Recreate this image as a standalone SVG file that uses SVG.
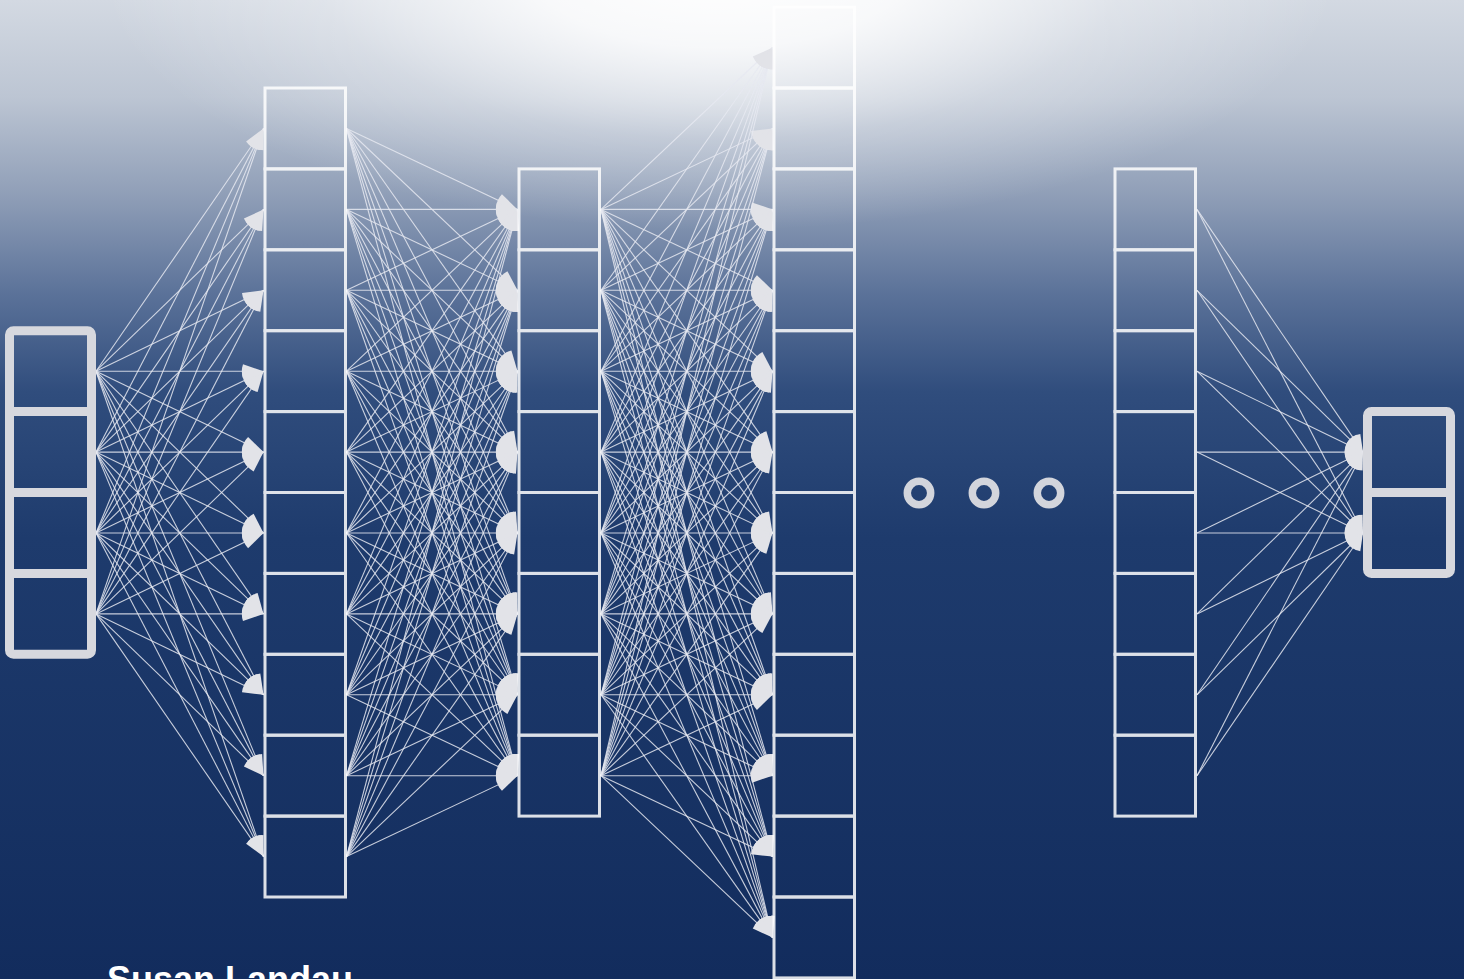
<svg xmlns="http://www.w3.org/2000/svg" width="1464" height="979" viewBox="0 0 1464 979">
<defs>
<style>
.conn path{fill:none;stroke:#e6e9f1;stroke-width:1.1;stroke-opacity:0.85}
.layer{opacity:0.85}
.layer rect{fill:none;stroke:#ffffff;stroke-width:3}
.io rect,.io path{fill:none;stroke:#d7d8de;stroke-width:9}
.dot{fill:none;stroke:#d3d5dc;stroke-width:7.5}
.label{font-family:"Liberation Sans",Arial,sans-serif;font-weight:bold;font-size:36px;fill:#ffffff}
</style>
<linearGradient id="bg" x1="0" y1="0" x2="0" y2="979" gradientUnits="userSpaceOnUse">
<stop offset="0" stop-color="#d3d9e2"/>
<stop offset="0.1" stop-color="#bcc5d3"/>
<stop offset="0.2" stop-color="#8f9eb7"/>
<stop offset="0.3" stop-color="#5b7299"/>
<stop offset="0.4" stop-color="#304d7d"/>
<stop offset="0.55" stop-color="#1e3b6d"/>
<stop offset="1" stop-color="#122c5d"/>
</linearGradient>
<radialGradient id="glow" cx="720" cy="-30" r="620" gradientUnits="userSpaceOnUse" gradientTransform="translate(720 -30) scale(1 0.42) translate(-720 30)">
<stop offset="0" stop-color="#ffffff" stop-opacity="1"/>
<stop offset="0.3" stop-color="#ffffff" stop-opacity="0.85"/>
<stop offset="0.65" stop-color="#ffffff" stop-opacity="0.3"/>
<stop offset="1" stop-color="#ffffff" stop-opacity="0"/>
</radialGradient>
<marker id="ah" viewBox="-23 -12 24 24" refX="0" refY="0" markerWidth="24" markerHeight="24" markerUnits="userSpaceOnUse" orient="auto">
<path d="M0,0 L-20.5,-7 A21.7,21.7 0 0 0 -20.5,7 Z" fill="#e2e3e8"/>
</marker>
<marker id="ah2" viewBox="-20 -12 21 24" refX="0" refY="0" markerWidth="21" markerHeight="24" markerUnits="userSpaceOnUse" orient="auto">
<path d="M0,0 L-16.5,-8 A18.3,18.3 0 0 0 -16.5,8 Z" fill="#e2e3e8"/>
</marker>
</defs>
<rect x="0" y="0" width="1464" height="979" fill="url(#bg)"/>
<rect x="0" y="0" width="1464" height="979" fill="url(#glow)"/>

<g id="connectors" class="conn">
<g id="input-to-hidden1" marker-end="url(#ah)">
<path d="M96 371.2L263.5 128.5"/><path d="M96 371.2L263.5 209.4"/><path d="M96 371.2L263.5 290.3"/><path d="M96 371.2L263.5 371.2"/><path d="M96 371.2L263.5 452.1"/><path d="M96 371.2L263.5 533"/><path d="M96 371.2L263.5 613.9"/><path d="M96 371.2L263.5 694.8"/><path d="M96 371.2L263.5 775.7"/><path d="M96 371.2L263.5 856.6"/>
<path d="M96 452.1L263.5 128.5"/><path d="M96 452.1L263.5 209.4"/><path d="M96 452.1L263.5 290.3"/><path d="M96 452.1L263.5 371.2"/><path d="M96 452.1L263.5 452.1"/><path d="M96 452.1L263.5 533"/><path d="M96 452.1L263.5 613.9"/><path d="M96 452.1L263.5 694.8"/><path d="M96 452.1L263.5 775.7"/><path d="M96 452.1L263.5 856.6"/>
<path d="M96 533L263.5 128.5"/><path d="M96 533L263.5 209.4"/><path d="M96 533L263.5 290.3"/><path d="M96 533L263.5 371.2"/><path d="M96 533L263.5 452.1"/><path d="M96 533L263.5 533"/><path d="M96 533L263.5 613.9"/><path d="M96 533L263.5 694.8"/><path d="M96 533L263.5 775.7"/><path d="M96 533L263.5 856.6"/>
<path d="M96 613.9L263.5 128.5"/><path d="M96 613.9L263.5 209.4"/><path d="M96 613.9L263.5 290.3"/><path d="M96 613.9L263.5 371.2"/><path d="M96 613.9L263.5 452.1"/><path d="M96 613.9L263.5 533"/><path d="M96 613.9L263.5 613.9"/><path d="M96 613.9L263.5 694.8"/><path d="M96 613.9L263.5 775.7"/><path d="M96 613.9L263.5 856.6"/>
</g>
<g id="hidden1-to-hidden2" marker-end="url(#ah)">
<path d="M346.5 128.5L517.5 209.4"/><path d="M346.5 128.5L517.5 290.3"/><path d="M346.5 128.5L517.5 371.2"/><path d="M346.5 128.5L517.5 452.1"/><path d="M346.5 128.5L517.5 533"/><path d="M346.5 128.5L517.5 613.9"/><path d="M346.5 128.5L517.5 694.8"/><path d="M346.5 128.5L517.5 775.7"/>
<path d="M346.5 209.4L517.5 209.4"/><path d="M346.5 209.4L517.5 290.3"/><path d="M346.5 209.4L517.5 371.2"/><path d="M346.5 209.4L517.5 452.1"/><path d="M346.5 209.4L517.5 533"/><path d="M346.5 209.4L517.5 613.9"/><path d="M346.5 209.4L517.5 694.8"/><path d="M346.5 209.4L517.5 775.7"/>
<path d="M346.5 290.3L517.5 209.4"/><path d="M346.5 290.3L517.5 290.3"/><path d="M346.5 290.3L517.5 371.2"/><path d="M346.5 290.3L517.5 452.1"/><path d="M346.5 290.3L517.5 533"/><path d="M346.5 290.3L517.5 613.9"/><path d="M346.5 290.3L517.5 694.8"/><path d="M346.5 290.3L517.5 775.7"/>
<path d="M346.5 371.2L517.5 209.4"/><path d="M346.5 371.2L517.5 290.3"/><path d="M346.5 371.2L517.5 371.2"/><path d="M346.5 371.2L517.5 452.1"/><path d="M346.5 371.2L517.5 533"/><path d="M346.5 371.2L517.5 613.9"/><path d="M346.5 371.2L517.5 694.8"/><path d="M346.5 371.2L517.5 775.7"/>
<path d="M346.5 452.1L517.5 209.4"/><path d="M346.5 452.1L517.5 290.3"/><path d="M346.5 452.1L517.5 371.2"/><path d="M346.5 452.1L517.5 452.1"/><path d="M346.5 452.1L517.5 533"/><path d="M346.5 452.1L517.5 613.9"/><path d="M346.5 452.1L517.5 694.8"/><path d="M346.5 452.1L517.5 775.7"/>
<path d="M346.5 533L517.5 209.4"/><path d="M346.5 533L517.5 290.3"/><path d="M346.5 533L517.5 371.2"/><path d="M346.5 533L517.5 452.1"/><path d="M346.5 533L517.5 533"/><path d="M346.5 533L517.5 613.9"/><path d="M346.5 533L517.5 694.8"/><path d="M346.5 533L517.5 775.7"/>
<path d="M346.5 613.9L517.5 209.4"/><path d="M346.5 613.9L517.5 290.3"/><path d="M346.5 613.9L517.5 371.2"/><path d="M346.5 613.9L517.5 452.1"/><path d="M346.5 613.9L517.5 533"/><path d="M346.5 613.9L517.5 613.9"/><path d="M346.5 613.9L517.5 694.8"/><path d="M346.5 613.9L517.5 775.7"/>
<path d="M346.5 694.8L517.5 209.4"/><path d="M346.5 694.8L517.5 290.3"/><path d="M346.5 694.8L517.5 371.2"/><path d="M346.5 694.8L517.5 452.1"/><path d="M346.5 694.8L517.5 533"/><path d="M346.5 694.8L517.5 613.9"/><path d="M346.5 694.8L517.5 694.8"/><path d="M346.5 694.8L517.5 775.7"/>
<path d="M346.5 775.7L517.5 209.4"/><path d="M346.5 775.7L517.5 290.3"/><path d="M346.5 775.7L517.5 371.2"/><path d="M346.5 775.7L517.5 452.1"/><path d="M346.5 775.7L517.5 533"/><path d="M346.5 775.7L517.5 613.9"/><path d="M346.5 775.7L517.5 694.8"/><path d="M346.5 775.7L517.5 775.7"/>
<path d="M346.5 856.6L517.5 209.4"/><path d="M346.5 856.6L517.5 290.3"/><path d="M346.5 856.6L517.5 371.2"/><path d="M346.5 856.6L517.5 452.1"/><path d="M346.5 856.6L517.5 533"/><path d="M346.5 856.6L517.5 613.9"/><path d="M346.5 856.6L517.5 694.8"/><path d="M346.5 856.6L517.5 775.7"/>
</g>
<g id="hidden2-to-hidden3" marker-end="url(#ah)">
<path d="M601 209.4L772.5 47.6"/><path d="M601 209.4L772.5 128.5"/><path d="M601 209.4L772.5 209.4"/><path d="M601 209.4L772.5 290.3"/><path d="M601 209.4L772.5 371.2"/><path d="M601 209.4L772.5 452.1"/><path d="M601 209.4L772.5 533"/><path d="M601 209.4L772.5 613.9"/><path d="M601 209.4L772.5 694.8"/><path d="M601 209.4L772.5 775.7"/><path d="M601 209.4L772.5 856.6"/><path d="M601 209.4L772.5 937.5"/>
<path d="M601 290.3L772.5 47.6"/><path d="M601 290.3L772.5 128.5"/><path d="M601 290.3L772.5 209.4"/><path d="M601 290.3L772.5 290.3"/><path d="M601 290.3L772.5 371.2"/><path d="M601 290.3L772.5 452.1"/><path d="M601 290.3L772.5 533"/><path d="M601 290.3L772.5 613.9"/><path d="M601 290.3L772.5 694.8"/><path d="M601 290.3L772.5 775.7"/><path d="M601 290.3L772.5 856.6"/><path d="M601 290.3L772.5 937.5"/>
<path d="M601 371.2L772.5 47.6"/><path d="M601 371.2L772.5 128.5"/><path d="M601 371.2L772.5 209.4"/><path d="M601 371.2L772.5 290.3"/><path d="M601 371.2L772.5 371.2"/><path d="M601 371.2L772.5 452.1"/><path d="M601 371.2L772.5 533"/><path d="M601 371.2L772.5 613.9"/><path d="M601 371.2L772.5 694.8"/><path d="M601 371.2L772.5 775.7"/><path d="M601 371.2L772.5 856.6"/><path d="M601 371.2L772.5 937.5"/>
<path d="M601 452.1L772.5 47.6"/><path d="M601 452.1L772.5 128.5"/><path d="M601 452.1L772.5 209.4"/><path d="M601 452.1L772.5 290.3"/><path d="M601 452.1L772.5 371.2"/><path d="M601 452.1L772.5 452.1"/><path d="M601 452.1L772.5 533"/><path d="M601 452.1L772.5 613.9"/><path d="M601 452.1L772.5 694.8"/><path d="M601 452.1L772.5 775.7"/><path d="M601 452.1L772.5 856.6"/><path d="M601 452.1L772.5 937.5"/>
<path d="M601 533L772.5 47.6"/><path d="M601 533L772.5 128.5"/><path d="M601 533L772.5 209.4"/><path d="M601 533L772.5 290.3"/><path d="M601 533L772.5 371.2"/><path d="M601 533L772.5 452.1"/><path d="M601 533L772.5 533"/><path d="M601 533L772.5 613.9"/><path d="M601 533L772.5 694.8"/><path d="M601 533L772.5 775.7"/><path d="M601 533L772.5 856.6"/><path d="M601 533L772.5 937.5"/>
<path d="M601 613.9L772.5 47.6"/><path d="M601 613.9L772.5 128.5"/><path d="M601 613.9L772.5 209.4"/><path d="M601 613.9L772.5 290.3"/><path d="M601 613.9L772.5 371.2"/><path d="M601 613.9L772.5 452.1"/><path d="M601 613.9L772.5 533"/><path d="M601 613.9L772.5 613.9"/><path d="M601 613.9L772.5 694.8"/><path d="M601 613.9L772.5 775.7"/><path d="M601 613.9L772.5 856.6"/><path d="M601 613.9L772.5 937.5"/>
<path d="M601 694.8L772.5 47.6"/><path d="M601 694.8L772.5 128.5"/><path d="M601 694.8L772.5 209.4"/><path d="M601 694.8L772.5 290.3"/><path d="M601 694.8L772.5 371.2"/><path d="M601 694.8L772.5 452.1"/><path d="M601 694.8L772.5 533"/><path d="M601 694.8L772.5 613.9"/><path d="M601 694.8L772.5 694.8"/><path d="M601 694.8L772.5 775.7"/><path d="M601 694.8L772.5 856.6"/><path d="M601 694.8L772.5 937.5"/>
<path d="M601 775.7L772.5 47.6"/><path d="M601 775.7L772.5 128.5"/><path d="M601 775.7L772.5 209.4"/><path d="M601 775.7L772.5 290.3"/><path d="M601 775.7L772.5 371.2"/><path d="M601 775.7L772.5 452.1"/><path d="M601 775.7L772.5 533"/><path d="M601 775.7L772.5 613.9"/><path d="M601 775.7L772.5 694.8"/><path d="M601 775.7L772.5 775.7"/><path d="M601 775.7L772.5 856.6"/><path d="M601 775.7L772.5 937.5"/>
</g>
<g id="hiddenN-to-output" marker-end="url(#ah2)">
<path d="M1197 209.4L1363 452.1"/><path d="M1197 209.4L1363 533"/>
<path d="M1197 290.3L1363 452.1"/><path d="M1197 290.3L1363 533"/>
<path d="M1197 371.2L1363 452.1"/><path d="M1197 371.2L1363 533"/>
<path d="M1197 452.1L1363 452.1"/><path d="M1197 452.1L1363 533"/>
<path d="M1197 533L1363 452.1"/><path d="M1197 533L1363 533"/>
<path d="M1197 613.9L1363 452.1"/><path d="M1197 613.9L1363 533"/>
<path d="M1197 694.8L1363 452.1"/><path d="M1197 694.8L1363 533"/>
<path d="M1197 775.7L1363 452.1"/><path d="M1197 775.7L1363 533"/>
</g>
</g>

<g id="input-layer" class="io">
<rect x="9.5" y="330.7" width="82" height="323.6" rx="4"/>
<path d="M9.5 411.6H91.5M9.5 492.5H91.5M9.5 573.4H91.5"/>
</g>

<g id="hidden-layer-1" class="layer">
<rect x="265" y="88" width="80.5" height="80.9"/><rect x="265" y="168.9" width="80.5" height="80.9"/><rect x="265" y="249.8" width="80.5" height="80.9"/><rect x="265" y="330.7" width="80.5" height="80.9"/><rect x="265" y="411.6" width="80.5" height="80.9"/><rect x="265" y="492.5" width="80.5" height="80.9"/><rect x="265" y="573.4" width="80.5" height="80.9"/><rect x="265" y="654.3" width="80.5" height="80.9"/><rect x="265" y="735.2" width="80.5" height="80.9"/><rect x="265" y="816.1" width="80.5" height="80.9"/>
</g>

<g id="hidden-layer-2" class="layer">
<rect x="519" y="168.9" width="80.5" height="80.9"/><rect x="519" y="249.8" width="80.5" height="80.9"/><rect x="519" y="330.7" width="80.5" height="80.9"/><rect x="519" y="411.6" width="80.5" height="80.9"/><rect x="519" y="492.5" width="80.5" height="80.9"/><rect x="519" y="573.4" width="80.5" height="80.9"/><rect x="519" y="654.3" width="80.5" height="80.9"/><rect x="519" y="735.2" width="80.5" height="80.9"/>
</g>

<g id="hidden-layer-3" class="layer">
<rect x="774" y="7.1" width="80.5" height="80.9"/><rect x="774" y="88" width="80.5" height="80.9"/><rect x="774" y="168.9" width="80.5" height="80.9"/><rect x="774" y="249.8" width="80.5" height="80.9"/><rect x="774" y="330.7" width="80.5" height="80.9"/><rect x="774" y="411.6" width="80.5" height="80.9"/><rect x="774" y="492.5" width="80.5" height="80.9"/><rect x="774" y="573.4" width="80.5" height="80.9"/><rect x="774" y="654.3" width="80.5" height="80.9"/><rect x="774" y="735.2" width="80.5" height="80.9"/><rect x="774" y="816.1" width="80.5" height="80.9"/><rect x="774" y="897" width="80.5" height="80.9"/>
</g>

<g id="ellipsis">
<circle class="dot" cx="919" cy="493" r="11.7"/>
<circle class="dot" cx="984" cy="493" r="11.7"/>
<circle class="dot" cx="1049" cy="493" r="11.7"/>
</g>

<g id="hidden-layer-n" class="layer">
<rect x="1115" y="168.9" width="80.5" height="80.9"/><rect x="1115" y="249.8" width="80.5" height="80.9"/><rect x="1115" y="330.7" width="80.5" height="80.9"/><rect x="1115" y="411.6" width="80.5" height="80.9"/><rect x="1115" y="492.5" width="80.5" height="80.9"/><rect x="1115" y="573.4" width="80.5" height="80.9"/><rect x="1115" y="654.3" width="80.5" height="80.9"/><rect x="1115" y="735.2" width="80.5" height="80.9"/>
</g>

<g id="output-layer" class="io">
<rect x="1367.5" y="411.6" width="83" height="161.8" rx="4"/>
<path d="M1367.5 492.5H1450.5"/>
</g>

<text class="label" x="107" y="992">Susan Landau</text>
</svg>
